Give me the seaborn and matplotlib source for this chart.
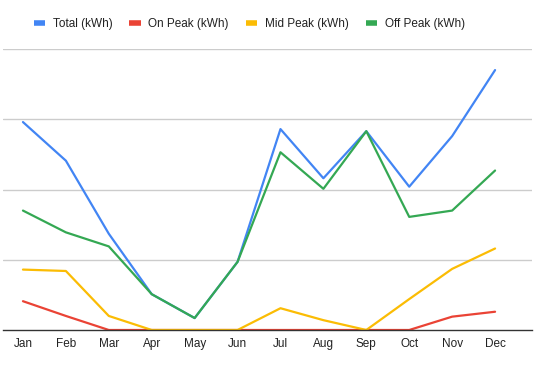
import matplotlib.pyplot as plt
import numpy as np
import pandas as pd
import seaborn as sns

months = ["Jan", "Feb", "Mar", "Apr", "May", "Jun",
          "Jul", "Aug", "Sep", "Oct", "Nov", "Dec"]
total = [296, 241, 137, 51, 17, 97, 286, 216, 283, 204, 276, 370]
on_peak = [41, 20, 0, 0, 0, 0, 0, 0, 0, 0, 19, 26]
mid_peak = [86, 84, 20, 0, 0, 0, 31, 14, 0, 44, 87, 116]
off_peak = [170, 139, 119, 51, 17, 97, 253, 201, 283, 161, 170, 227]

series = ["Total (kWh)", "On Peak (kWh)", "Mid Peak (kWh)", "Off Peak (kWh)"]
colors = ["#4285f4", "#ea4335", "#fbbc04", "#34a853"]

df = pd.DataFrame({"month": months, series[0]: total, series[1]: on_peak,
                   series[2]: mid_peak, series[3]: off_peak})
long = df.melt(id_vars="month", var_name="series", value_name="kwh")
long["x"] = long["month"].map({m: i for i, m in enumerate(months)})

sns.set_style("white")
plt.rcParams["font.family"] = ["Liberation Sans", "DejaVu Sans"]

fig = plt.figure(figsize=(5.36, 3.69), dpi=100)
ax = fig.add_axes([3 / 536, 39 / 369, 529 / 536, 281 / 369])

sns.lineplot(data=long, x="x", y="kwh", hue="series", hue_order=series,
             palette=colors, linewidth=1.6, ax=ax, legend=True)

ax.set_xlim(-20 / 43, 11 + 37 / 43)
ax.set_ylim(0, 400)
ax.set_yticks([100, 200, 300, 400])
ax.yaxis.grid(True, color="#cccccc", linewidth=1)
ax.set_yticklabels([])
ax.tick_params(axis="y", length=0)
ax.set_xticks(range(12))
ax.set_xticklabels(months, fontsize=8.5, color="#222222")
ax.tick_params(axis="x", length=0, pad=6)
ax.set_xlabel("")
ax.set_ylabel("")
for s in ["top", "left", "right"]:
    ax.spines[s].set_visible(False)
ax.spines["bottom"].set_color("#333333")
ax.spines["bottom"].set_linewidth(1)
ax.set_axisbelow(True)

handles, labels = ax.get_legend_handles_labels()
for h in handles:
    h.set_linewidth(4)
    h.set_solid_capstyle("butt")
ax.legend(handles, labels, loc="center left", bbox_to_anchor=(26 / 529, 1 + 25 / 281),
          ncol=4, frameon=False, fontsize=8.5, handlelength=0.95, handletextpad=0.65,
          columnspacing=1.45, borderaxespad=0, labelcolor="#222222")

fig.savefig("out.png", dpi=100)
